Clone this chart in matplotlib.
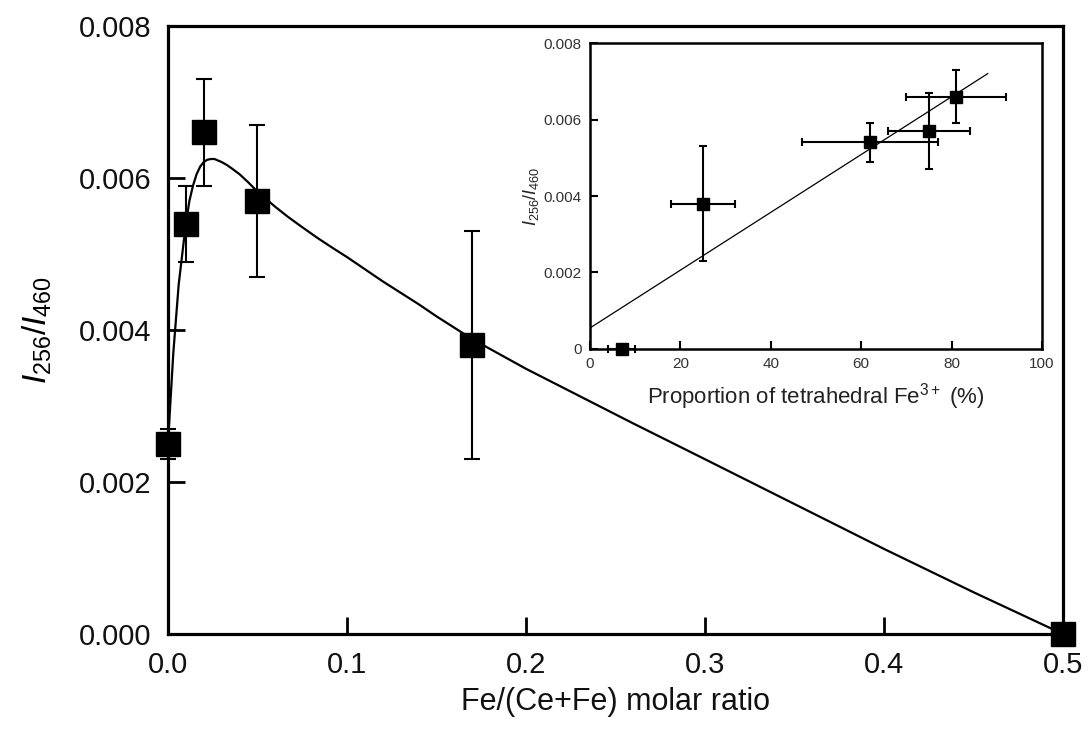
import numpy as np
import matplotlib
matplotlib.use("Agg")
from matplotlib import pyplot as plt

plt.rcParams['font.family'] = ['Liberation Sans', 'DejaVu Sans']
plt.rcParams['mathtext.fontset'] = 'custom'
plt.rcParams['mathtext.rm'] = 'Liberation Sans'
plt.rcParams['mathtext.it'] = 'Liberation Sans:italic'

# main panel: intensity ratio vs Fe fraction
fe_ratio = [0.0, 0.01, 0.02, 0.05, 0.17, 0.5]
i_ratio = [0.0025, 0.0054, 0.0066, 0.0057, 0.0038, 0.0]
i_err = [0.0002, 0.0005, 0.0007, 0.001, 0.0015, 0.0]

# guide curve through the data
curve_x = [0.0, 0.001, 0.002, 0.003, 0.004, 0.005, 0.006, 0.008, 0.010,
           0.012, 0.014, 0.016, 0.018, 0.020, 0.022, 0.024, 0.026, 0.028,
           0.030, 0.033, 0.036, 0.040, 0.045, 0.050, 0.055, 0.060, 0.067,
           0.074, 0.083, 0.092, 0.10, 0.11, 0.12, 0.13, 0.14, 0.15, 0.16,
           0.17, 0.18, 0.19, 0.20, 0.23, 0.26, 0.30, 0.35, 0.40, 0.45, 0.5]
curve_y = [0.0025, 0.0029, 0.0033, 0.0037, 0.0040, 0.0043, 0.0046, 0.0050,
           0.0054, 0.0057, 0.00590, 0.00605, 0.00615, 0.00621, 0.00624,
           0.00625, 0.00625, 0.00623, 0.00621, 0.00617, 0.00612, 0.00605,
           0.00594, 0.00582, 0.00572, 0.00562, 0.00549, 0.00537, 0.00522,
           0.00508, 0.00496, 0.00480, 0.00464, 0.00449, 0.00434, 0.00418,
           0.00403, 0.00388, 0.00375, 0.00362, 0.00349, 0.00313, 0.00277,
           0.00230, 0.00171, 0.00112, 0.00055, 0.0]

# inset: intensity ratio vs tetrahedral Fe3+
tet_fe = [7, 25, 62, 75, 81]
tet_xerr = [3, 7, 15, 9, 11]
tet_i = [0.0, 0.0038, 0.0054, 0.0057, 0.0066]
tet_yerr = [0.0, 0.0015, 0.0005, 0.001, 0.0007]
fit_x = [0, 88]
fit_y = [0.00055, 0.0072]

fig = plt.figure(figsize=(10.92, 7.43), dpi=100)
ax = fig.add_axes([0.1538, 0.1467, 0.8196, 0.8183])

ax.plot(curve_x, curve_y, color='black', lw=1.6, zorder=2)
ax.errorbar(fe_ratio, i_ratio, yerr=i_err, fmt='s', color='black',
            ms=17, elinewidth=1.5, capsize=6, capthick=1.5, zorder=3,
            clip_on=False)

ax.set_xlim(0, 0.5)
ax.set_ylim(0, 0.008)
ax.set_xticks([0.0, 0.1, 0.2, 0.3, 0.4, 0.5])
ax.set_xticklabels(['0.0', '0.1', '0.2', '0.3', '0.4', '0.5'])
ax.set_yticks([0.0, 0.002, 0.004, 0.006, 0.008])
ax.set_yticklabels(['0.000', '0.002', '0.004', '0.006', '0.008'])
ax.tick_params(direction='in', length=12, width=2, labelsize=21, pad=12,
               labelcolor='#111111')
for s in ax.spines.values():
    s.set_linewidth(2.3)
ax.set_xlabel('Fe/(Ce+Fe) molar ratio', fontsize=22, labelpad=6,
              color='#111111')
ax.set_ylabel(r'$I_{256}/I_{460}$', fontsize=24, labelpad=18)

# inset
ins = fig.add_axes([0.5403, 0.5303, 0.4139, 0.4118])
ins.plot(fit_x, fit_y, color='black', lw=0.9, zorder=2)
ins.errorbar(tet_fe, tet_i, xerr=tet_xerr, yerr=tet_yerr, fmt='s',
             color='black', ms=9, elinewidth=1.5, capsize=3, capthick=1.5,
             zorder=3, clip_on=False)
ins.set_xlim(0, 100)
ins.set_ylim(0, 0.008)
ins.set_xticks([0, 20, 40, 60, 80, 100])
ins.set_yticks([0, 0.002, 0.004, 0.006, 0.008])
ins.set_yticklabels(['0', '0.002', '0.004', '0.006', '0.008'])
ins.tick_params(direction='in', length=6, width=1.5, labelsize=11,
                pad=6, colors='black', labelcolor='#333333')
for s in ins.spines.values():
    s.set_linewidth(1.8)
ins.set_xlabel(r'Proportion of tetrahedral Fe$^{3+}$ (%)', fontsize=16,
               labelpad=7, color='#222222')
ins.set_ylabel(r'$I_{256}/I_{460}$', fontsize=13, labelpad=2,
               color='#222222')

fig.savefig('out.png', dpi=100)
